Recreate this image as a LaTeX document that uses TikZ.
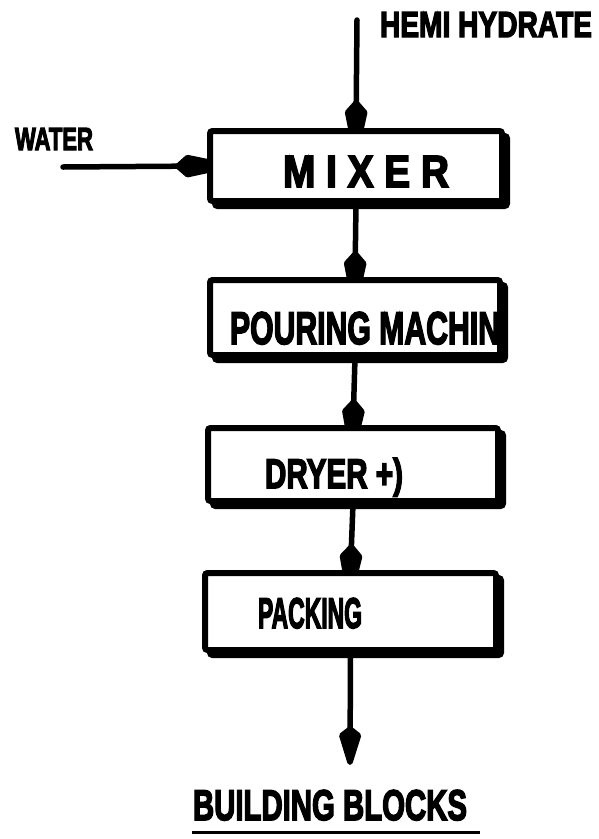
\documentclass[tikz,border=0pt]{standalone}
\usepackage{graphicx}
\usepackage{fontspec}
\setmainfont{Liberation Sans}
\newfontfamily\heavyfont{Liberation Sans}[BoldFeatures={FakeBold=4}]
\usetikzlibrary{arrows.meta}

\pgfdeclarelayer{bg}
\pgfsetlayers{bg,main}

% heavy label stretched to a given width and cap height (in pt)
\newcommand\fitlabel[3]{\resizebox{#1pt}{#2pt}{\heavyfont\bfseries #3}}

\tikzset{
  procbox/.style={rectangle, draw=black, fill=white, line width=6pt,
    rounded corners=2.5pt, inner sep=0pt,
    preaction={draw=black, fill=black, line width=6pt,
      transform canvas={xshift=5pt, yshift=-5pt}}},
  flow/.style={line width=5.5pt, line cap=round,
    -{Kite[length=68pt, width=23pt, inset=13pt, round]}},
  outflow/.style={line width=5.5pt, line cap=round,
    -{Kite[length=46pt, width=23pt, inset=9pt, round]}},
  lbl/.style={anchor=base west, inner sep=0pt, outer sep=0pt}
}

\begin{document}
\begin{tikzpicture}[x=1pt, y=-1pt]
  \useasboundingbox (0,0) rectangle (599,839);

  % process boxes
  \node[procbox, minimum width=292pt, minimum height=70pt] (mixer) at (356,166) {};
  \node[procbox, minimum width=290pt, minimum height=75pt] (pour)  at (355,317.5) {};
  \node[procbox, minimum width=290pt, minimum height=73pt] (dryer) at (353,464.5) {};
  \node[procbox, minimum width=291pt, minimum height=77pt] (pack)  at (350.5,611.5) {};

  % free ends of the feed and product lines
  \coordinate (hemiTop)    at (357,20);
  \coordinate (waterStart) at (63,167);
  \coordinate (outEnd)     at (350,765);

  % material flow, kept behind the boxes (tips end inside the boxes)
  \begin{pgfonlayer}{bg}
    \draw[flow, shorten >=-28pt] (hemiTop) -- (mixer.north);
    \draw[flow, shorten >=-24pt] (waterStart) -- (mixer.west);
    \draw[flow, shorten >=-30pt] (mixer.south) -- (pour.north);
    \draw[flow, shorten >=-30pt] (pour.south) -- (dryer.north);
    \draw[flow, shorten >=-30pt] (dryer.south) -- (pack.north);
    \draw[outflow] (pack.south) -- (outEnd);
  \end{pgfonlayer}

  % labels
  \node[lbl] (tHemi)  at (380,37)  {\fitlabel{212}{25}{HEMI HYDRATE}};
  \node[lbl] (tWater) at (15,150)  {\fitlabel{78}{22}{WATER}};
  \node[lbl] (tMixer) at (283,187) {\fitlabel{166}{31}{M I X E R}};
  \node[lbl] (tPour)  at (230,344) {\fitlabel{270}{32}{POURING MACHIN}};
  \node[lbl] (tDryer) at (265,488) {\fitlabel{138}{30}{DRYER +)}};
  \node[lbl] (tPack)  at (258,628) {\fitlabel{104}{30}{PACKING}};
  \node[lbl] (tOut)   at (193,820) {\fitlabel{274}{30}{BUILDING BLOCKS}};

  % underline of the product name
  \draw[line width=3.5pt]
    ([xshift=-1pt, yshift=-12pt]tOut.south west) -- ([xshift=13pt, yshift=-12pt]tOut.south east);
\end{tikzpicture}
\end{document}
